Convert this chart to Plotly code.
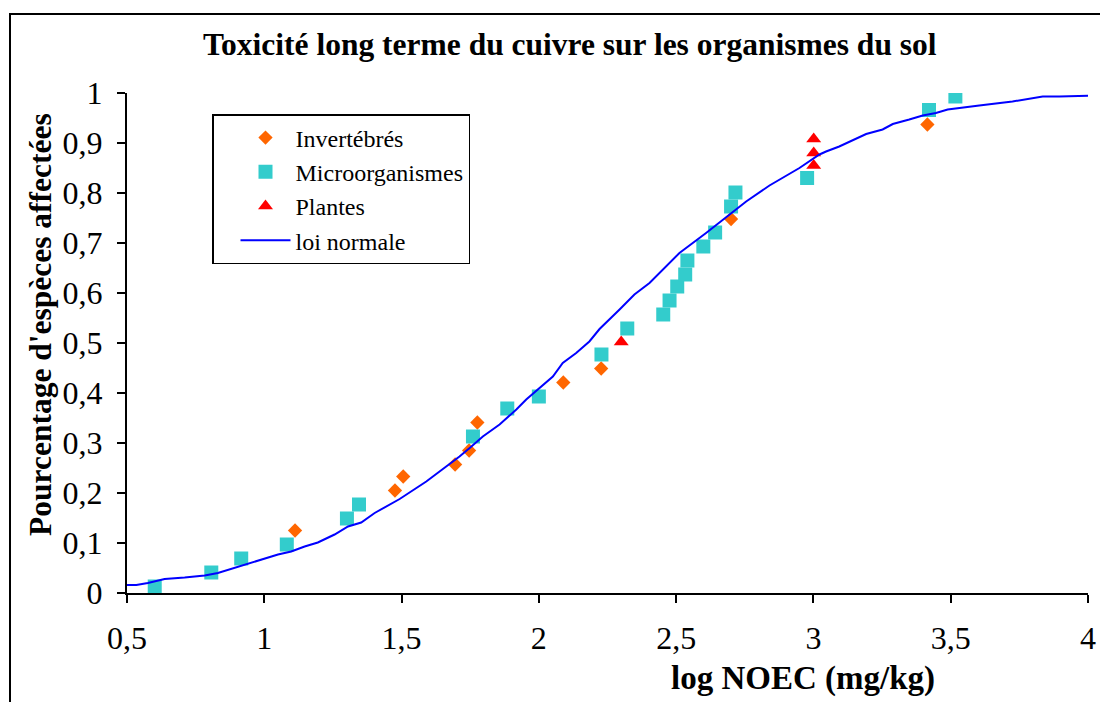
import plotly.graph_objects as go

# ---- data ----
inv_x = [1.112, 1.476, 1.506, 1.695, 1.746, 1.776, 2.089, 2.227, 2.700, 3.415]
inv_y = [0.125, 0.205, 0.233, 0.257, 0.285, 0.341, 0.421, 0.449, 0.748, 0.937]

micro_x = [0.601, 0.807, 0.916, 1.082, 1.301, 1.345, 1.760, 1.885, 2.000, 2.228,
           2.322, 2.453, 2.476, 2.504, 2.533, 2.541, 2.599, 2.642, 2.700, 2.716,
           2.977, 3.421, 3.517]
micro_y = [0.013, 0.041, 0.069, 0.097, 0.149, 0.177, 0.313, 0.369, 0.393, 0.477,
           0.529, 0.557, 0.585, 0.613, 0.637, 0.665, 0.693, 0.721, 0.773, 0.801,
           0.830, 0.966, 0.993]

plant_x = [2.300, 3.001, 3.001, 3.001]
plant_y = [0.502, 0.855, 0.880, 0.908]

curve_x = [0.48, 0.534, 0.576, 0.637, 0.710, 0.783, 0.831, 0.904, 0.977, 1.050,
           1.098, 1.147, 1.195, 1.256, 1.305, 1.353, 1.402, 1.493, 1.590, 1.650,
           1.711, 1.748, 1.796, 1.857, 1.918, 1.954, 2.002, 2.051, 2.087, 2.136,
           2.184, 2.221, 2.294, 2.348, 2.403, 2.445, 2.512, 2.609, 2.670, 2.755,
           2.840, 2.900, 2.949, 3.022, 3.046, 3.094, 3.143, 3.192, 3.252, 3.289,
           3.349, 3.398, 3.446, 3.489, 3.604, 3.725, 3.835, 3.896, 4.03]
curve_y = [0.016, 0.016, 0.020, 0.028, 0.031, 0.035, 0.040, 0.052, 0.064, 0.077,
           0.083, 0.093, 0.101, 0.117, 0.133, 0.141, 0.160, 0.188, 0.223, 0.247,
           0.273, 0.290, 0.313, 0.337, 0.367, 0.387, 0.410, 0.433, 0.460, 0.480,
           0.503, 0.528, 0.567, 0.597, 0.620, 0.643, 0.680, 0.720, 0.747, 0.783,
           0.815, 0.835, 0.850, 0.877, 0.883, 0.893, 0.905, 0.918, 0.927, 0.938,
           0.947, 0.955, 0.960, 0.967, 0.975, 0.983, 0.993, 0.993, 0.995]

x_ticks = [0.5, 1, 1.5, 2, 2.5, 3, 3.5, 4]
y_ticks = [0, 0.1, 0.2, 0.3, 0.4, 0.5, 0.6, 0.7, 0.8, 0.9, 1]

FONT = "Liberation Serif"

fig = go.Figure()
fig.add_trace(go.Scatter(x=inv_x, y=inv_y, mode="markers", name="Invertébrés",
                         marker=dict(symbol="diamond", size=11, color="#FF6600")))
fig.add_trace(go.Scatter(x=micro_x, y=micro_y, mode="markers", name="Microorganismes",
                         marker=dict(symbol="square", size=14, color="#33CCCC")))
fig.add_trace(go.Scatter(x=plant_x, y=plant_y, mode="markers", name="Plantes",
                         marker=dict(symbol="triangle-up", size=13, color="#FF0000")))
fig.add_trace(go.Scatter(x=curve_x, y=curve_y, mode="lines", name="loi normale",
                         line=dict(color="#0000FF", width=2)))

L, R, T, B = 127, 12, 93, 109
W, H = 1100, 702
pw = W - L - R
ph = H - T - B

def px(xp):
    return (xp - L) / pw

def py(yp):
    return (H - B - yp) / ph

fig.update_layout(
    width=W, height=H,
    margin=dict(l=L, r=R, t=T, b=B, autoexpand=False),
    paper_bgcolor="white", plot_bgcolor="white",
    separators=", ",
    font=dict(family=FONT, color="black"),
    showlegend=True,
    legend=dict(x=px(212), y=py(114), xanchor="left", yanchor="top",
                bgcolor="white", bordercolor="black", borderwidth=1.5,
                font=dict(family=FONT, size=24, color="black"),
                indentation=22, itemwidth=50,
                traceorder="normal"),
    xaxis=dict(range=[0.5, 4], tickvals=x_ticks, showgrid=False, zeroline=False,
               showline=True, linecolor="black", linewidth=2,
               ticks="outside", ticklen=8, tickwidth=2, tickcolor="black",
               tickfont=dict(family=FONT, size=32, color="black"),
               ticklabelstandoff=8),
    yaxis=dict(range=[0, 1], tickvals=y_ticks, showgrid=False, zeroline=False,
               showline=True, linecolor="black", linewidth=2,
               ticks="outside", ticklen=8, tickwidth=2, tickcolor="black",
               tickfont=dict(family=FONT, size=32, color="black"),
               ticklabelstandoff=8),
    annotations=[
        dict(text="<b>Toxicité long terme du cuivre sur les organismes du sol</b>",
             x=px(570), y=py(45), xref="paper", yref="paper",
             xanchor="center", yanchor="middle", showarrow=False,
             font=dict(family=FONT, size=31.5, color="black")),
        dict(text="<b>log NOEC (mg/kg)</b>",
             x=px(803), y=py(678), xref="paper", yref="paper",
             xanchor="center", yanchor="middle", showarrow=False,
             font=dict(family=FONT, size=33, color="black")),
        dict(text="<b>Pourcentage d'espèces affectées</b>",
             x=px(40), y=py(325), xref="paper", yref="paper",
             xanchor="center", yanchor="middle", showarrow=False, textangle=-90,
             font=dict(family=FONT, size=31.5, color="black")),
    ],
    shapes=[
        dict(type="rect", xref="paper", yref="paper",
             x0=px(10), y0=py(720), x1=px(1120), y1=py(14),
             line=dict(color="black", width=2), fillcolor="rgba(0,0,0,0)",
             layer="below"),
    ],
)

fig.write_html("out.html",
               config={"displayModeBar": False},
               post_script="document.body.style.margin='0px';document.body.style.padding='0px';")
